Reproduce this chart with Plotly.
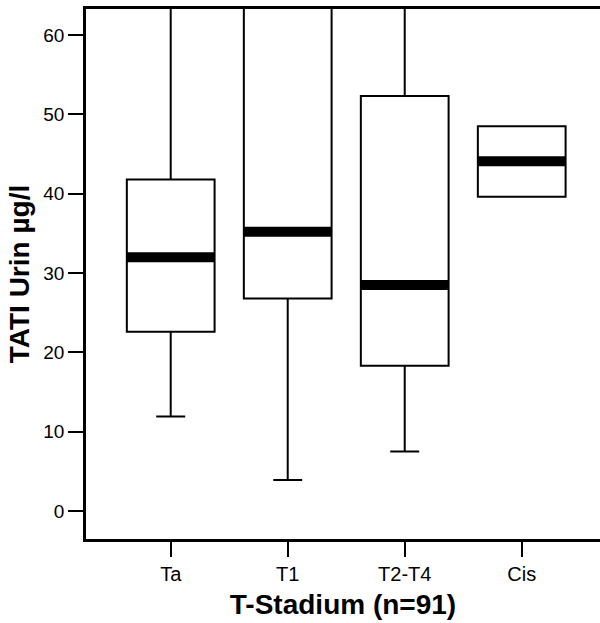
import plotly.graph_objects as go

categories = ["Ta", "T1", "T2-T4", "Cis"]
q1_vals = [22.6, 26.8, 18.3, 39.6]
median_vals = [32.0, 35.2, 28.5, 44.1]
q3_vals = [41.8, 75.0, 52.3, 48.5]
lower_vals = [11.9, 3.9, 7.5, 39.6]
upper_vals = [75.0, 90.0, 75.0, 48.5]

y_ticks = [0, 10, 20, 30, 40, 50, 60]

BOX_W = 0.75
FONT = "Liberation Sans, Arial, sans-serif"

fig = go.Figure()
fig.add_trace(go.Box(
    x=categories,
    q1=q1_vals, median=median_vals, q3=q3_vals,
    lowerfence=lower_vals, upperfence=upper_vals,
    fillcolor="white",
    line=dict(color="black", width=2),
    whiskerwidth=0.33,
    boxpoints=False,
    width=BOX_W,
    showlegend=False,
    hoverinfo="skip",
))

for i, m in enumerate(median_vals):
    fig.add_shape(type="line", xref="x", yref="y",
                  x0=i - BOX_W / 2, x1=i + BOX_W / 2, y0=m, y1=m,
                  line=dict(color="black", width=10), layer="above")

fig.update_layout(
    width=600, height=623,
    margin=dict(l=86, r=0, t=9, b=84),
    paper_bgcolor="white", plot_bgcolor="white",
    font=dict(family=FONT, color="black", size=18),
    showlegend=False,
)
fig.update_xaxes(
    type="category", categoryorder="array", categoryarray=categories,
    range=[-0.724, 3.669], automargin=False,
    showline=True, linecolor="black", linewidth=2.5, mirror=True,
    ticks="outside", ticklen=15, tickwidth=2, tickcolor="black",
    showgrid=False, zeroline=False,
    tickfont=dict(size=20),
    title=dict(text="<b>T-Stadium (n=91)</b>", font=dict(size=28), standoff=11),
)
fig.update_yaxes(
    range=[-3.53, 63.28], automargin=False,
    tickvals=y_ticks, ticktext=[str(t) for t in y_ticks],
    showline=True, linecolor="black", linewidth=2.5, mirror=False,
    ticks="outside", ticklen=15, tickwidth=2, tickcolor="black",
    showgrid=False, zeroline=False,
    tickfont=dict(size=19),
    title=dict(text="<b>TATI Urin µg/l</b>", font=dict(size=28), standoff=6),
)

fig.write_html("out.html",
               config={"displayModeBar": False},
               post_script="document.body.style.margin='0';document.body.style.overflow='hidden';")
